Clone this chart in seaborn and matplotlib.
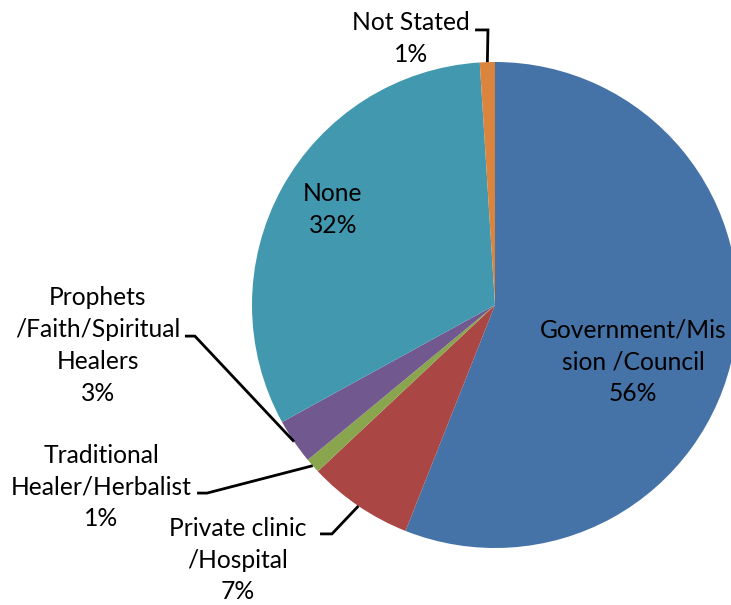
import numpy as np
import matplotlib
matplotlib.use("Agg")
import matplotlib.pyplot as plt
import seaborn as sns

# Source of health care consulted (percent of respondents)
categories = [
    "Government/Mis\nsion /Council",
    "Private clinic\n/Hospital",
    "Traditional\nHealer/Herbalist",
    "Prophets\n/Faith/Spiritual\nHealers",
    "None",
    "Not Stated",
]
values = [56, 7, 1, 3, 32, 1]
colors = ["#4572A7", "#AA4643", "#89A54E", "#71588F", "#4198AF", "#DB843D"]

sns.set_theme(style="white")
plt.rcParams["font.family"] = ["Lato", "DejaVu Sans"]

W, H = 731, 605
fig = plt.figure(figsize=(W / 100, H / 100), dpi=100)
fig.patch.set_facecolor("white")

# pie centre (495, 305) px, radius 243 px
cx, cy, r = 495, 305, 243
ax = fig.add_axes([(cx - r) / W, (H - cy - r) / H, 2 * r / W, 2 * r / H])

wedges, _ = ax.pie(values, colors=colors, startangle=90, counterclock=False,
                   radius=1.0, wedgeprops=dict(linewidth=0))
ax.set_xlim(-1, 1)
ax.set_ylim(-1, 1)
ax.set_aspect("auto")
ax.axis("off")
for w in wedges:
    w.set_clip_on(False)

labels = [f"{c}\n{v}%" for c, v in zip(categories, values)]

# label centres (data units, radius = 1)
label_pos = [
    (0.568, -0.235),
    (-1.058, -1.050),
    (-1.621, -0.749),
    (-1.634, -0.167),
    (-0.667, 0.393),
    (-0.346, 1.097),
]
# leader-line elbows for labels placed outside the pie
elbows = {
    1: [(-0.720, -0.942), (-0.671, -0.942)],
    2: [(-1.226, -0.774), (-1.185, -0.774)],
    3: [(-1.276, -0.128), (-1.235, -0.128)],
    5: [(-0.082, 1.132), (-0.029, 1.132)],
}

fs = 17.7
for i, (lab, (x, y)) in enumerate(zip(labels, label_pos)):
    ax.text(x, y, lab, ha="center", va="center", fontsize=fs,
            color="black", linespacing=1.46, multialignment="center")
    if i in elbows:
        w = wedges[i]
        mid = np.deg2rad((w.theta1 + w.theta2) / 2)
        ex, ey = np.cos(mid), np.sin(mid)
        pts = elbows[i] + [(ex, ey)]
        xs, ys = zip(*pts)
        ax.plot(xs, ys, color="black", lw=2.0, clip_on=False,
                solid_capstyle="butt", solid_joinstyle="miter")

fig.savefig("out.png", dpi=100, facecolor="white")
